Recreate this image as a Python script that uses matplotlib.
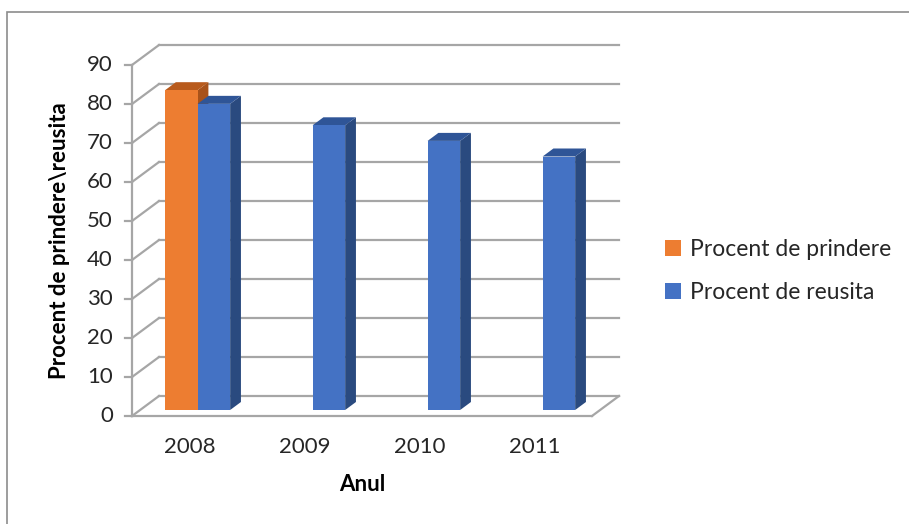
import matplotlib
matplotlib.use('Agg')
import matplotlib.pyplot as plt
from matplotlib.patches import Polygon, Rectangle, Patch
import numpy as np

plt.rcParams['font.family'] = ['Lato', 'DejaVu Sans']

# Date
years = ['2008', '2009', '2010', '2011']
prindere = [82, np.nan, np.nan, np.nan]
reusita = [78.5, 73, 69, 65]
series_names = ['Procent de prindere', 'Procent de reusita']
y_ticks = list(range(0, 100, 10))

# Culori (fata, capac, lateral)
orange = ('#ED7D31', '#B85A1C', '#A8521A')
blue = ('#4472C4', '#2F5597', '#2A4A7F')
grid_col = '#A6A6A6'

W, H = 909, 524
fig = plt.figure(figsize=(W / 100, H / 100), dpi=100)
ax = fig.add_axes([0, 0, 1, 1])

# scala: 115 px pe categorie, 3.9 px pe unitate
px_x, px_y = 115.0, 3.9
x0_px, y0_px = 132, H - 416
ax.set_xlim(-0.5 - x0_px / px_x, -0.5 + (W - x0_px) / px_x)
ax.set_ylim(-y0_px / px_y, (H - y0_px) / px_y)
ax.axis('off')

DX = 27 / px_x   # adancime pe x
DY = 20 / px_y   # adancime pe y
left, right = -0.5, len(years) - 0.5
ymax = y_ticks[-1]

# perete spate + perete stanga
for v in y_ticks:
    ax.plot([left + DX, right + DX], [v + DY, v + DY], color=grid_col, lw=1.6, zorder=1)
    ax.plot([left, left + DX], [v, v + DY], color=grid_col, lw=1.6, zorder=1)
    ax.plot([left - 7 / px_x, left], [v, v], color=grid_col, lw=1.6, zorder=1)
    ax.text(left - 19 / px_x, v, str(v), ha='right', va='center',
            fontsize=16, color='#262626')

ax.plot([left, left], [0, ymax], color=grid_col, lw=1.6, zorder=1)
# podea
ax.plot([left, right], [0, 0], color=grid_col, lw=1.6, zorder=1)
ax.plot([right, right + DX], [0, DY], color=grid_col, lw=1.6, zorder=1)


def bar3d(x, w, v, cols, f0=0.3, fd=0.4):
    b = f0 * DY
    ex, ey = fd * DX, fd * DY
    front = Rectangle((x, b), w, v, facecolor=cols[0], edgecolor='none', zorder=3)
    top = Polygon([(x, b + v), (x + w, b + v), (x + w + ex, b + v + ey), (x + ex, b + v + ey)],
                  closed=True, facecolor=cols[1], edgecolor='none', zorder=3)
    side = Polygon([(x + w, b), (x + w, b + v), (x + w + ex, b + v + ey), (x + w + ex, b + ey)],
                   closed=True, facecolor=cols[2], edgecolor='none', zorder=3)
    for p in (side, top, front):
        ax.add_patch(p)


bw = 0.283
f0 = 0.3
for i in range(len(years)):
    c = i + f0 * DX
    if not np.isnan(prindere[i]):
        bar3d(c - bw, bw, prindere[i], orange)
    if not np.isnan(reusita[i]):
        bar3d(c, bw, reusita[i], blue)
    ax.text(i, -8.0, years[i], ha='center', va='center', fontsize=16, color='#262626')

ax.text(1.5, -17.5, 'Anul', ha='center', va='center', fontsize=16,
        fontweight='bold', color='black')
ax.text(left - 72 / px_x, 45, 'Procent de prindere\\reusita', ha='center', va='center',
        rotation=90, fontsize=16, fontweight='bold', color='black')

handles = [Patch(facecolor=orange[0]), Patch(facecolor=blue[0])]
fig.legend(handles, series_names, loc='center left', bbox_to_anchor=(644 / W, 1 - 271 / H),
           frameon=False, fontsize=16.5, handlelength=0.7, handleheight=0.7,
           handletextpad=0.4, labelspacing=0.95, labelcolor='#262626')

# chenar
fig.patches.append(Rectangle((7 / W, -0.1), 1.2, 1 - 12 / H + 0.1, transform=fig.transFigure,
                             fill=False, edgecolor='#8C8C8C', lw=1.2))

fig.savefig('out.png', dpi=100)
